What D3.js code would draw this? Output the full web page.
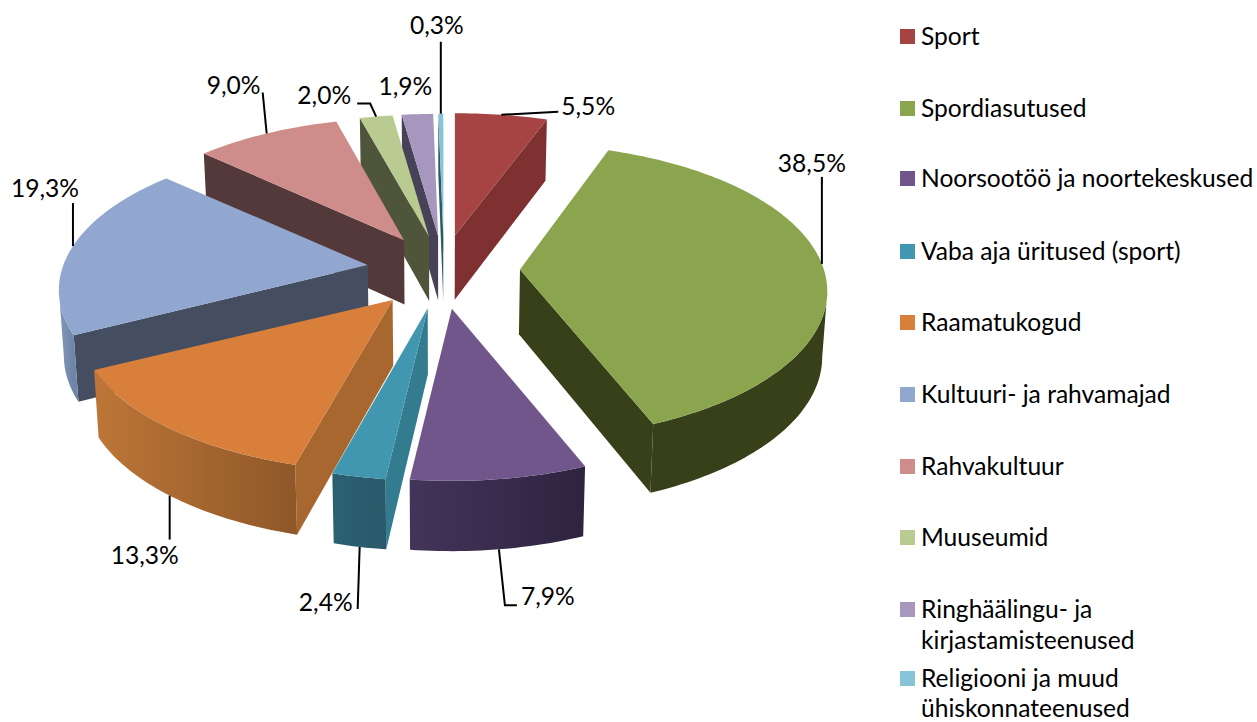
<!DOCTYPE html>
<html lang="en">
<head>
<meta charset="UTF-8">
<title>Exploded 3D pie</title>
<script src="https://d3js.org/d3.v7.min.js"></script>
<style>
  html, body { margin: 0; padding: 0; background: #fff; }
  text { font-family: Lato, "Noto Sans", sans-serif; fill: #000; }
</style>
</head>
<body>
<svg width="1257" height="722"></svg>
<script>
// data
var categories = ["Sport", "Spordiasutused", "Noorsootöö ja noortekeskused", "Vaba aja üritused (sport)",
  "Raamatukogud", "Kultuuri- ja rahvamajad", "Rahvakultuur", "Muuseumid",
  "Ringhäälingu- ja kirjastamisteenused", "Religiooni ja muud ühiskonnateenused"];
var values = [5.5, 38.5, 7.9, 2.4, 13.3, 19.3, 9.0, 2.0, 1.9, 0.3];
var valueLabels = ["5,5%", "38,5%", "7,9%", "2,4%", "13,3%", "19,3%", "9,0%", "2,0%", "1,9%", "0,3%"];

// colours: top face, inner wall, outer wall left/right
var topColors = ["#a54443", "#8aa54e", "#71568c", "#4097af", "#d77f3b", "#91a7cf", "#ce8c8b", "#b9cb91", "#a796bd", "#87c4d8"];
var innerColors = ["#7f3131", "#384019", "#43345a", "#337c90", "#a8672f", "#454e61", "#54393a", "#4e553a", "#474258", "#2a5a66"];
var outerLeft = ["#7f3131", "#384019", "#43345a", "#2a6170", "#bd7637", "#8298bb", "#54393a", "#4e553a", "#474258", "#2a5a66"];
var outerRight = ["#7f3131", "#384019", "#2e2340", "#29596a", "#8f5828", "#6f85a8", "#54393a", "#4e553a", "#474258", "#2a5a66"];

// projection settings fitted to the picture
var cx = 442, cy = 270, rx = 309, ry = 143, persp = 5.9;
var explodeX = 75, explodeY = 36;
// small per slice corrections, the original projection is not quite this simple
var sliceShift = [[0, 1], [3, 0], [0, 3], [0, 3], [-2, 2], [0, 0], [1, 1], [2, 2], [2, 2], [2, 2]];
var rimScale = [1.02, 0.98, 0.98, 0.98, 1, 0.985, 0.98, 1, 1, 1];
var rimLift = [0, -3, 0, 0, 0, 0, 0, 0, 0, 0];

// leader lines: position along slice arc, whether it starts at wall bottom, then offsets from anchor
var leaderT = [0.5, 0.5, 0.5, 0.5, 0.508, 0.5, 0.5, 0.5, 0.5, 0.5];
var leaderBottom = [false, false, true, true, true, false, false, false, false, false];
var leaderOffsets = [
  [[57, -3]], [[0, -87]], [[6, 56], [18, 56]], [[-2, 62]], [[0, 44]],
  [[0, -43]], [[-4, -41]], [[-6, -13], [-19, -13]], [], [[0, -72]]
];
var labelOffsets = [
  [60, -8, "start"], [-10, -101, "middle"], [22, 47, "start"], [-7, 55, "end"], [-25, 60, "middle"],
  [-28, -58, "middle"], [-33, -48, "middle"], [-25, -21, "end"], [-12, -28, "middle"], [-4, -88, "middle"]
];
var legendRows = [36, 108, 178, 251, 322, 394, 466, 537, 609, 678];
var legendGap = [31, 31, 31, 31, 31, 31, 31, 31, 31, 30];
var legendLines = [["Sport"], ["Spordiasutused"], ["Noorsootöö ja noortekeskused"], ["Vaba aja üritused (sport)"],
  ["Raamatukogud"], ["Kultuuri- ja rahvamajad"], ["Rahvakultuur"], ["Muuseumid"],
  ["Ringhäälingu- ja", "kirjastamisteenused"], ["Religiooni ja muud", "ühiskonnateenused"]];

var fontSize = 24.6;
var svg = d3.select("svg");
var defs = svg.append("defs");
var line = d3.line();

var pie = d3.pie().sort(null);
var slices = pie(values).map(function(d, i) {
  var mid = (d.startAngle + d.endAngle) / 2;
  return {
    i: i,
    a0: d.startAngle,
    a1: d.endAngle,
    mid: mid,
    ax: cx + explodeX * Math.sin(mid) + sliceShift[i][0],
    ay: cy - explodeY * Math.cos(mid) + sliceShift[i][1]
  };
});

// point on the rim of a slice, seen with perspective
function rim(s, a) {
  var p = persp / (persp + Math.cos(a));
  return [s.ax + rx * rimScale[s.i] * Math.sin(a) * p, s.ay + rimLift[s.i] - ry * Math.cos(a) * p];
}
// same point at the bottom of the extrusion
function drop(pt) {
  return [440 + (pt[0] - 440) * 0.987, pt[1] + 65 + (pt[1] - 270) * 0.025];
}
function arcAngles(a0, a1) {
  return d3.range(0, 1.0001, 1 / Math.max(2, Math.ceil((a1 - a0) / 0.02))).map(function(t) {
    return a0 + (a1 - a0) * t;
  });
}
function wall(a, b) {
  return line([a, b, drop(b), drop(a)]) + "Z";
}

// back slices first
var order = slices.slice().sort(function(a, b) { return Math.cos(b.mid) - Math.cos(a.mid); });
var pieG = svg.append("g");

order.forEach(function(s) {
  var g = pieG.append("g");
  var apex = [s.ax, s.ay];
  var i = s.i;

  // radial walls that face the viewer
  if (Math.sin(s.a0) < 0) {
    g.append("path").attr("d", wall(apex, rim(s, s.a0))).attr("fill", innerColors[i]);
  }
  if (Math.sin(s.a1) > 0) {
    g.append("path").attr("d", wall(apex, rim(s, s.a1))).attr("fill", innerColors[i]);
  }

  // outer wall, front part of the rim only
  var vis = arcAngles(s.a0, s.a1).filter(function(a) { return Math.cos(a) < -1 / persp; });
  if (vis.length > 1) {
    var up = vis.map(function(a) { return rim(s, a); });
    var down = up.map(drop).reverse();
    var xs = up.map(function(p) { return p[0]; });
    var grad = defs.append("linearGradient").attr("id", "wall" + i)
      .attr("gradientUnits", "userSpaceOnUse")
      .attr("x1", d3.min(xs)).attr("x2", d3.max(xs)).attr("y1", 0).attr("y2", 0);
    grad.append("stop").attr("offset", 0).attr("stop-color", outerLeft[i]);
    grad.append("stop").attr("offset", 1).attr("stop-color", outerRight[i]);
    g.append("path").attr("d", line(up.concat(down)) + "Z").attr("fill", "url(#wall" + i + ")");
  }

  // top face
  var top = [apex].concat(arcAngles(s.a0, s.a1).map(function(a) { return rim(s, a); }));
  g.append("path").attr("d", line(top) + "Z").attr("fill", topColors[i]);
});

// leaders and value labels
slices.forEach(function(s) {
  var i = s.i;
  var anchor = rim(s, s.a0 + (s.a1 - s.a0) * leaderT[i]);
  if (leaderBottom[i]) anchor = drop(anchor);
  if (leaderOffsets[i].length) {
    var pts = [anchor].concat(leaderOffsets[i].map(function(o) { return [anchor[0] + o[0], anchor[1] + o[1]]; }));
    svg.append("path").attr("d", line(pts)).attr("fill", "none").attr("stroke", "#000").attr("stroke-width", 2);
  }
  var lo = labelOffsets[i];
  svg.append("text")
    .attr("x", anchor[0] + lo[0])
    .attr("y", anchor[1] + lo[1])
    .attr("dy", "0.35em")
    .attr("text-anchor", lo[2])
    .style("font-size", fontSize + "px")
    .text(valueLabels[i]);
});

// legend
var legend = svg.append("g");
categories.forEach(function(c, i) {
  var y0 = legendRows[i];
  legend.append("rect").attr("x", 900).attr("y", y0 - 7).attr("width", 15).attr("height", 15).attr("fill", topColors[i]);
  legendLines[i].forEach(function(t, k) {
    legend.append("text").attr("x", 921).attr("y", y0 + k * legendGap[i]).attr("dy", "0.35em")
      .style("font-size", fontSize + "px").text(t);
  });
});
</script>
</body>
</html>
